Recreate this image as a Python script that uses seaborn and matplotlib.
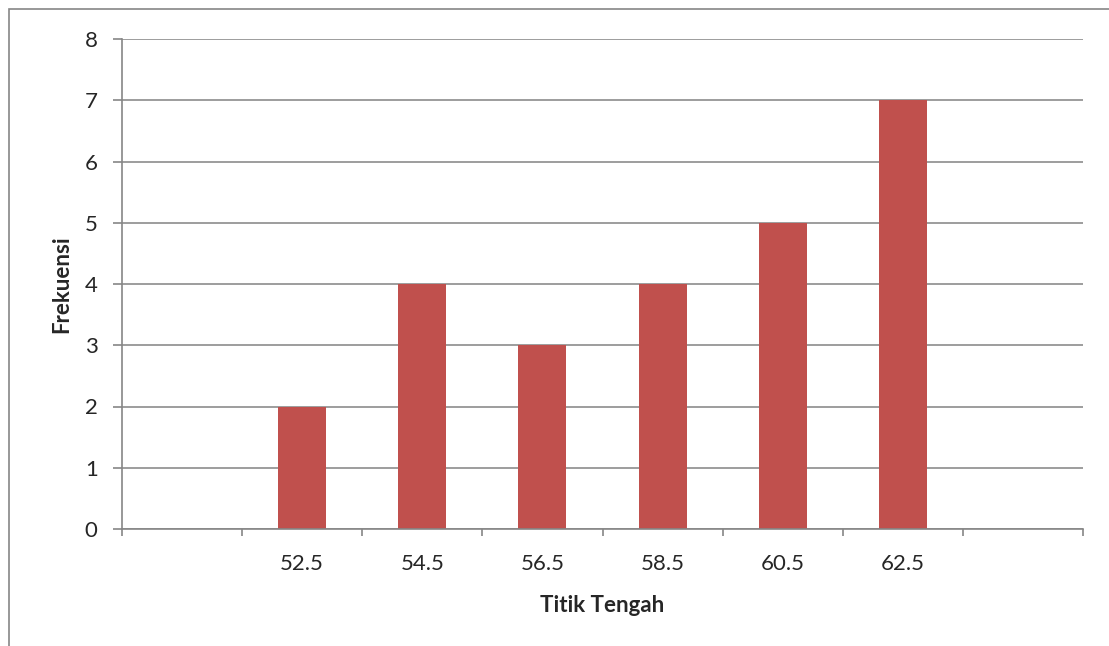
import matplotlib
matplotlib.use("Agg")
import matplotlib.pyplot as plt
import numpy as np
import pandas as pd
import seaborn as sns
from matplotlib.patches import Rectangle

# data
midpoints = ["52.5", "54.5", "56.5", "58.5", "60.5", "62.5"]
frequencies = [2, 4, 3, 4, 5, 7]
# Excel-style axis: one empty category on each side
category_order = ["_left"] + midpoints + ["_right"]
tick_labels = [""] + midpoints + [""]
y_ticks = [0, 1, 2, 3, 4, 5, 6, 7, 8]

bar_color = "#C0504D"
axis_gray = "#868686"
grid_gray = "#8C8C8C"

sns.set_theme(style="white")
plt.rcParams["font.family"] = ["Lato", "DejaVu Sans"]

df = pd.DataFrame({"titik": midpoints, "frekuensi": frequencies})

fig = plt.figure(figsize=(11.09, 6.46), dpi=100)
ax = fig.add_axes([122 / 1109, 1 - 529 / 646, (1083 - 122) / 1109, (529 - 39) / 646])

sns.barplot(data=df, x="titik", y="frekuensi", order=category_order,
            color=bar_color, saturation=1, width=0.4, linewidth=0, ax=ax)

ax.set_xlim(-0.5, len(category_order) - 0.5)
ax.set_ylim(0, 8)

# category boundary ticks (major) and centered labels (minor)
ax.set_xticks(np.arange(len(category_order) + 1) - 0.5)
ax.set_xticklabels([])
ax.set_xticks(np.arange(len(category_order)), minor=True)
ax.set_xticklabels(tick_labels, minor=True, fontsize=16)
ax.tick_params(axis="x", which="major", length=5, width=1.2, color=axis_gray,
               direction="out", bottom=True)
ax.tick_params(axis="x", which="minor", length=0, pad=18)

ax.set_yticks(y_ticks)
ax.set_yticklabels([str(v) for v in y_ticks], fontsize=16)
ax.tick_params(axis="y", length=6.5, width=1.2, color=axis_gray, direction="out",
               left=True, pad=11)

ax.yaxis.grid(True, color=grid_gray, linewidth=1.2)
ax.set_axisbelow(True)

for side in ["top", "right"]:
    ax.spines[side].set_visible(False)
for side in ["left", "bottom"]:
    ax.spines[side].set_color(axis_gray)
    ax.spines[side].set_linewidth(1.2)

ax.set_xlabel("Titik Tengah", fontsize=16, fontweight="bold", labelpad=15)
ax.set_ylabel("Frekuensi", fontsize=16, fontweight="bold", labelpad=9)

# outer chart border, cropped at the right and bottom
fig.patches.append(Rectangle((9 / 1109, -0.1), 1.2, 1 - 9 / 646 + 0.1,
                             transform=fig.transFigure, fill=False,
                             edgecolor=axis_gray, linewidth=1.2))

fig.savefig("out.png", dpi=100)
plt.close(fig)
